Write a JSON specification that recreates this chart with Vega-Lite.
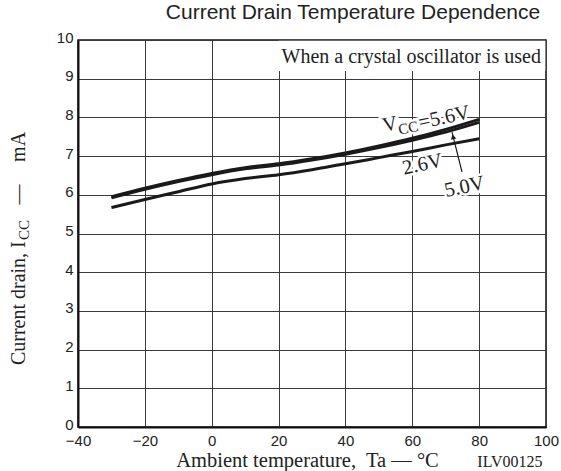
{
  "$schema": "https://vega.github.io/schema/vega-lite/v6.json",
  "width": 468,
  "height": 387,
  "autosize": {"type": "none"},
  "padding": {"left": 78, "top": 40, "right": 15, "bottom": 44},
  "background": "white",
  "title": {
    "text": "Current Drain Temperature Dependence",
    "font": "Liberation Sans",
    "fontSize": 21,
    "fontWeight": "normal",
    "color": "#222",
    "anchor": "middle",
    "dx": 41,
    "offset": 7
  },
  "config": {
    "view": {"stroke": "#111", "strokeWidth": 1.5},
    "text": {"font": "Liberation Serif", "color": "#222"}
  },
  "datasets": {
    "curves": [
      {"vcc": "5.6V", "ta": -30, "icc": 5.95}, {"vcc": "5.6V", "ta": -20, "icc": 6.17},
      {"vcc": "5.6V", "ta": -10, "icc": 6.37}, {"vcc": "5.6V", "ta": 0, "icc": 6.55},
      {"vcc": "5.6V", "ta": 10, "icc": 6.7}, {"vcc": "5.6V", "ta": 20, "icc": 6.8},
      {"vcc": "5.6V", "ta": 30, "icc": 6.93}, {"vcc": "5.6V", "ta": 40, "icc": 7.08},
      {"vcc": "5.6V", "ta": 50, "icc": 7.26}, {"vcc": "5.6V", "ta": 60, "icc": 7.46},
      {"vcc": "5.6V", "ta": 70, "icc": 7.69}, {"vcc": "5.6V", "ta": 80, "icc": 7.95},
      {"vcc": "5.0V", "ta": -30, "icc": 5.92}, {"vcc": "5.0V", "ta": -20, "icc": 6.14},
      {"vcc": "5.0V", "ta": -10, "icc": 6.34}, {"vcc": "5.0V", "ta": 0, "icc": 6.52},
      {"vcc": "5.0V", "ta": 10, "icc": 6.67}, {"vcc": "5.0V", "ta": 20, "icc": 6.77},
      {"vcc": "5.0V", "ta": 30, "icc": 6.9}, {"vcc": "5.0V", "ta": 40, "icc": 7.05},
      {"vcc": "5.0V", "ta": 50, "icc": 7.22}, {"vcc": "5.0V", "ta": 60, "icc": 7.41},
      {"vcc": "5.0V", "ta": 70, "icc": 7.62}, {"vcc": "5.0V", "ta": 80, "icc": 7.87},
      {"vcc": "2.6V", "ta": -30, "icc": 5.67}, {"vcc": "2.6V", "ta": -20, "icc": 5.88},
      {"vcc": "2.6V", "ta": -10, "icc": 6.08}, {"vcc": "2.6V", "ta": 0, "icc": 6.28},
      {"vcc": "2.6V", "ta": 10, "icc": 6.42}, {"vcc": "2.6V", "ta": 20, "icc": 6.52},
      {"vcc": "2.6V", "ta": 30, "icc": 6.65}, {"vcc": "2.6V", "ta": 40, "icc": 6.8},
      {"vcc": "2.6V", "ta": 50, "icc": 6.96}, {"vcc": "2.6V", "ta": 60, "icc": 7.12},
      {"vcc": "2.6V", "ta": 70, "icc": 7.29}, {"vcc": "2.6V", "ta": 80, "icc": 7.45}
    ],
    "curveLabels": [
      {"t": "V", "ta": 51.54, "icc": 7.62},
      {"t": "=5.6V", "ta": 62.3, "icc": 7.7},
      {"t": "2.6V", "ta": 57.5, "icc": 6.52},
      {"t": "5.0V", "ta": 70.08, "icc": 5.94}
    ],
    "curveSubs": [
      {"t": "CC", "ta": 56.2, "icc": 7.55}
    ]
  },
  "encoding": {
    "x": {
      "field": "ta", "type": "quantitative",
      "scale": {"domain": [-40, 100], "nice": false, "zero": false},
      "axis": {
        "values": [-40, -20, 0, 20, 40, 60, 80, 100],
        "grid": true, "gridColor": "#3a3a3a", "gridWidth": 1,
        "ticks": false,
        "domainColor": "#111", "domainWidth": 2,
        "labelFont": "Liberation Sans", "labelFontSize": 15, "labelColor": "#222",
        "labelPadding": 6, "labelFlush": false, "labelOverlap": false,
        "title": "Ambient temperature,\u00a0 Ta — °C",
        "titleFont": "Liberation Serif", "titleFontSize": 20.5, "titleFontWeight": "normal",
        "titleColor": "#222", "titleX": 229, "titleY": 39, "titleBaseline": "alphabetic"
      }
    },
    "y": {
      "field": "icc", "type": "quantitative",
      "scale": {"domain": [0, 10], "nice": false, "zero": false},
      "axis": {
        "values": [0, 1, 2, 3, 4, 5, 6, 7, 8, 9, 10],
        "grid": true, "gridColor": "#3a3a3a", "gridWidth": 1,
        "ticks": false,
        "domainColor": "#111", "domainWidth": 2,
        "labelFont": "Liberation Sans", "labelFontSize": 15, "labelColor": "#222",
        "labelPadding": 5, "labelOffset": -3, "labelFlush": false, "labelOverlap": false,
        "title": null
      }
    }
  },
  "layer": [
    {
      "description": "Note box in the top-right corner, hiding the grid behind it",
      "data": {"values": [{"ta": 20, "ta2": 99.8, "icc": 9.2, "icc2": 9.98}]},
      "mark": {"type": "rect", "fill": "white", "stroke": null},
      "encoding": {
        "x2": {"field": "ta2"},
        "y2": {"field": "icc2"}
      }
    },
    {
      "data": {"values": [{"t": "When a crystal oscillator is used", "ta": 98.5, "icc": 9.41}]},
      "mark": {"type": "text", "align": "right", "baseline": "alphabetic", "fontSize": 20},
      "encoding": {"text": {"field": "t"}}
    },
    {
      "description": "White halo behind the curve labels",
      "data": {"name": "curveLabels"},
      "mark": {"type": "text", "align": "left", "baseline": "alphabetic", "fontSize": 20.5, "angle": -12, "fill": "white", "stroke": "white", "strokeWidth": 5},
      "encoding": {"text": {"field": "t"}}
    },
    {
      "data": {"name": "curveSubs"},
      "mark": {"type": "text", "align": "left", "baseline": "alphabetic", "fontSize": 15, "angle": -12, "fill": "white", "stroke": "white", "strokeWidth": 5},
      "encoding": {"text": {"field": "t"}}
    },
    {
      "data": {"name": "curves"},
      "mark": {"type": "line", "interpolate": "monotone", "color": "#1a1a1a", "strokeCap": "butt"},
      "encoding": {
        "detail": {"field": "vcc", "type": "nominal"},
        "strokeWidth": {
          "field": "vcc", "type": "nominal",
          "scale": {"domain": ["5.6V", "5.0V", "2.6V"], "range": [3, 3, 2.5]},
          "legend": null
        }
      }
    },
    {
      "data": {"name": "curveLabels"},
      "mark": {"type": "text", "align": "left", "baseline": "alphabetic", "fontSize": 20.5, "angle": -12},
      "encoding": {"text": {"field": "t"}}
    },
    {
      "data": {"name": "curveSubs"},
      "mark": {"type": "text", "align": "left", "baseline": "alphabetic", "fontSize": 15, "angle": -12},
      "encoding": {"text": {"field": "t"}}
    },
    {
      "description": "Leader from the 5.0V label to its curve",
      "data": {"values": [{"ta": 74.87, "icc": 6.59, "ta2": 71.88, "icc2": 7.62}]},
      "mark": {"type": "rule", "color": "#1a1a1a", "strokeWidth": 1.2},
      "encoding": {
        "x2": {"field": "ta2"},
        "y2": {"field": "icc2"}
      }
    },
    {
      "data": {"values": [{"ta": 72.2, "icc": 7.5}]},
      "mark": {"type": "point", "shape": "triangle-up", "filled": true, "color": "#1a1a1a", "size": 30, "angle": -14, "opacity": 1}
    },
    {
      "description": "Y axis title, written in pieces for the ICC subscript",
      "data": {"values": [
        {"t": "Current drain, I", "ta": -55.85, "icc": 1.6},
        {"t": "—", "ta": -55.85, "icc": 5.75},
        {"t": "mA", "ta": -55.85, "icc": 6.85}
      ]},
      "mark": {"type": "text", "align": "left", "baseline": "alphabetic", "fontSize": 20, "angle": -90},
      "encoding": {"text": {"field": "t"}}
    },
    {
      "data": {"values": [{"t": "CC", "ta": -54.6, "icc": 4.83}]},
      "mark": {"type": "text", "align": "left", "baseline": "alphabetic", "fontSize": 15, "angle": -90},
      "encoding": {"text": {"field": "t"}}
    },
    {
      "data": {"values": [{"t": "ILV00125", "ta": 89.2, "icc": -1.03}]},
      "mark": {"type": "text", "align": "center", "baseline": "alphabetic", "fontSize": 16},
      "encoding": {"text": {"field": "t"}}
    }
  ]
}
